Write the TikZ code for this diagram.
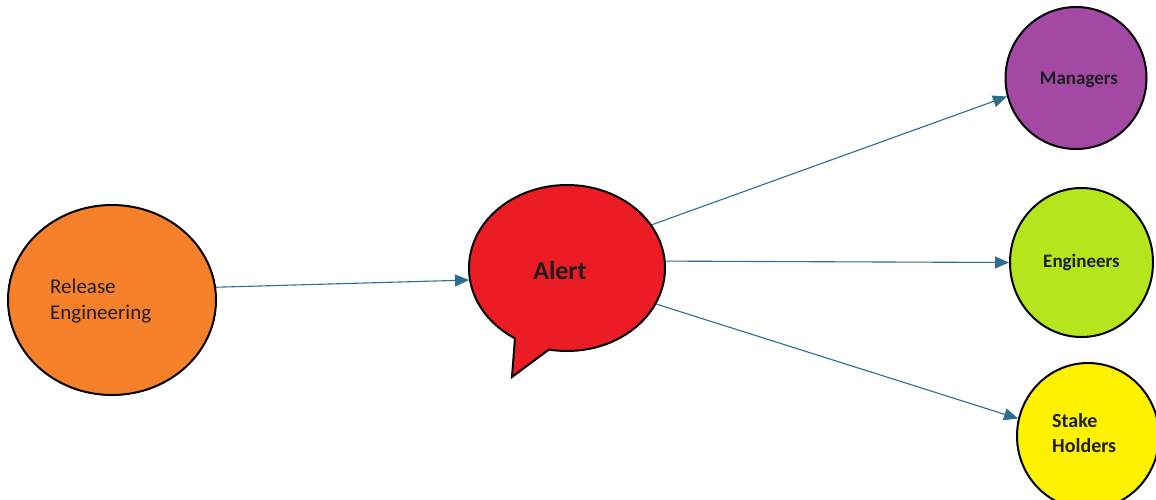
\documentclass[tikz,border=0pt]{standalone}
\usepackage{fontspec}
\setmainfont{Carlito}
\usetikzlibrary{shapes.geometric,arrows.meta}
\definecolor{relorange}{HTML}{F7802A}
\definecolor{alertred}{HTML}{EC1C24}
\definecolor{mgrpurple}{HTML}{A349A4}
\definecolor{englime}{HTML}{B5E61D}
\definecolor{stkyellow}{HTML}{FFF200}
\definecolor{arrowblue}{HTML}{2E6E8E}
\definecolor{txt}{HTML}{1E1E1E}
\begin{document}
\begin{tikzpicture}[x=1pt,y=-1pt,
  blob/.style={ellipse,draw=black,line width=2pt,inner sep=0pt},
  lbl/.style={text=txt,inner sep=0pt,font=\fontsize{21}{25.5}\selectfont},
  conn/.style={draw=arrowblue,line width=1.1pt,-{Triangle[length=14pt,width=12pt]}}]
\clip (0,0) rectangle (1156,499);
\fill[white] (0,0) rectangle (1156,499);
% nodes
\node[blob,fill=relorange,minimum width=208pt,minimum height=190pt] (rel) at (112,300) {};
\node[lbl,align=left,anchor=west] (reltext) at (50,301) {Release\\Engineering};
% alert bubble
\node[blob,fill=alertred,minimum width=196pt,minimum height=166pt] (alert) at (567,268) {};
\coordinate (tl) at (515,338);
\coordinate (tip) at (512,377);
\coordinate (tr) at (549,349.5);
\fill[alertred] (518,325) -- (tl) -- (tip) -- (tr) -- (552,335) -- cycle;
\draw[line width=2pt,line join=miter] (tl) -- (tip) -- (tr);
\node[text=txt,font=\bfseries\fontsize{26}{30}\selectfont,inner sep=0pt] (alerttext) at (560,270) {Alert};
% right circles
\node[blob,fill=mgrpurple,minimum width=141pt,minimum height=142pt] (mgr) at (1076,78) {};
\node[text=txt,font=\bfseries\fontsize{19}{22}\selectfont,inner sep=0pt] (mgrtext) at (1079,80) {Managers};
\node[blob,fill=englime,minimum width=143pt,minimum height=149pt,font=\bfseries\fontsize{19}{22}\selectfont,text=txt] (eng) at (1081.5,262.5) {Engineers};
\node[blob,fill=stkyellow,minimum width=142pt,minimum height=146pt] (stk) at (1088,436) {};
\node[lbl,font=\bfseries\fontsize{20}{25}\selectfont,align=left,anchor=west] (stktext) at (1052,433) {Stake\\Holders};
% connectors
\draw[conn] (rel.7) -- (alert.187);
\draw[conn] (alert.27) -- (mgr.195);
\draw[conn] (alert.4) -- (eng.180);
\draw[conn] (alert.-22) -- (stk.166);
\end{tikzpicture}
\end{document}
